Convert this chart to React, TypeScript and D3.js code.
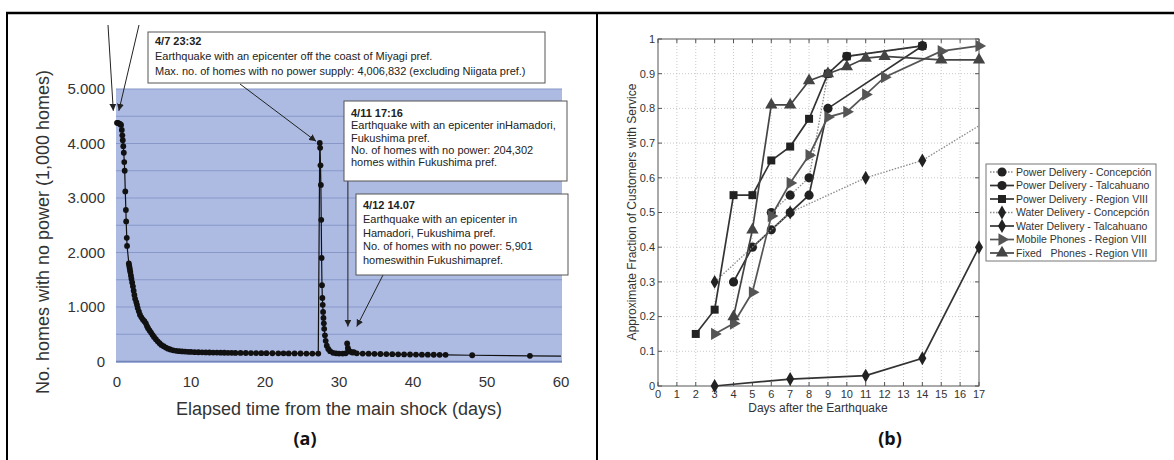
import React from 'react';
import * as d3 from 'd3';

// ---- (a) homes with no power after the main shock, 1,000 homes ----
const outageDays = [
  0, 0.1, 0.25, 0.4, 0.55, 0.65, 0.72, 0.78, 0.85, 0.92, 0.98, 1.04, 1.12, 1.2, 1.24, 1.32, 1.36,
  1.6, 1.65, 1.7, 1.75, 1.8, 1.88, 1.95, 2.05, 2.15, 2.25, 2.35, 2.45, 2.6, 2.7, 2.8, 2.95, 3.1,
  3.3, 3.5, 3.7, 3.9, 4.05, 4.2, 4.4, 4.6, 4.8, 5, 5.25, 5.5, 5.75, 6, 6.3, 6.6, 6.9, 7.2, 7.6, 8,
  8.4, 8.8, 9.2, 9.6, 10, 10.5, 11, 11.5, 12, 12.5, 13, 13.5, 14, 14.5, 15, 15.5, 16, 16.7, 17.4,
  18.1, 18.8, 19.5, 20.2, 21, 21.8, 22.5, 23.2, 24, 24.8, 25.6, 26.4, 27.2,
  27.4, 27.45, 27.5, 27.55, 27.6, 27.65, 27.7, 27.75, 27.8, 27.85, 27.9, 27.95, 28, 28.1, 28.2,
  28.35, 28.55, 28.8, 29.2, 29.6, 30, 30.5, 30.9, 31.1, 31.2, 31.3, 31.5, 31.8, 32, 32.4, 33.2,
  34, 34.8, 35.6, 36.4, 37.2, 38, 38.8, 39.6, 40.4, 41.2, 42, 42.8, 43.6, 44.4, 48, 55.8, 60
];
const outageHomes = [
  4380, 4380, 4370, 4360, 4340, 4250, 4150, 4060, 3950, 3830, 3660, 3500, 3120, 2780, 2570, 2270, 2120,
  1800, 1760, 1720, 1680, 1640, 1580, 1520, 1450, 1380, 1300, 1220, 1150, 1090, 1040, 980, 920, 860,
  810, 770, 740, 700, 650, 610, 570, 530, 490, 450, 410, 370, 335, 305, 280, 255, 235, 220, 205, 195,
  190, 185, 182, 178, 175, 172, 170, 168, 166, 165, 164, 163, 162, 161, 160, 159, 158, 157, 156,
  155, 154, 153, 152, 151, 150, 150, 149, 148, 147, 146, 145, 145,
  4010, 3920, 3600, 3240, 2600, 1900, 1400, 1165, 1040, 910, 800, 700, 600, 480, 380,
  290, 230, 190, 160, 150, 145, 145, 150, 330, 250, 210, 180, 165, 170, 150, 145,
  143, 140, 138, 136, 134, 132, 130, 128, 127, 126, 125, 124, 123, 122, 115, 105, 100
];
const yTicksA = [0, 1000, 2000, 3000, 4000, 5000];
const yTickLabelsA = ['0', '1.000', '2.000', '3.000', '4.000', '5.000'];
const xTicksA = [0, 10, 20, 30, 40, 50, 60];

const note47 = [
  '4/7 23:32',
  'Earthquake with an epicenter off the coast of Miyagi pref.',
  'Max. no. of homes with no power supply: 4,006,832 (excluding Niigata pref.)'
];
const note411 = [
  '4/11 17:16',
  'Earthquake with an epicenter inHamadori,',
  'Fukushima pref.',
  'No. of homes with no power: 204,302',
  'homes within Fukushima pref.'
];
const note412 = [
  '4/12 14.07',
  'Earthquake with an epicenter in',
  'Hamadori, Fukushima pref.',
  'No. of homes with no power: 5,901',
  'homeswithin Fukushimapref.'
];

// ---- (b) fraction of customers with service, by day ----
const seriesNames = [
  'Power Delivery - Concepción',
  'Power Delivery - Talcahuano',
  'Power Delivery - Region VIII',
  'Water Delivery - Concepción',
  'Water Delivery - Talcahuano',
  'Mobile Phones - Region VIII',
  'Fixed   Phones - Region VIII'
];
const powerConcepcion = [[6, 0.5], [7, 0.55], [8, 0.6], [9, 0.9], [10, 0.95], [14, 0.98]];
const powerTalcahuano = [[4, 0.3], [5, 0.4], [6, 0.45], [7, 0.5], [8, 0.55], [9, 0.8], [14, 0.98]];
const powerRegion = [[2, 0.15], [3, 0.22], [4, 0.55], [5, 0.55], [6, 0.65], [7, 0.69], [8, 0.77], [9, 0.9], [10, 0.95], [14, 0.98]];
const waterConcepcion = [[3, 0.3], [7, 0.5], [11, 0.6], [14, 0.65], [17, 0.75]];
const waterTalcahuano = [[3, 0], [7, 0.02], [11, 0.03], [14, 0.08], [17, 0.4]];
const mobileRegion = [[3, 0.15], [4, 0.18], [5, 0.27], [6, 0.49], [7, 0.585], [8, 0.665], [9, 0.775], [10, 0.79], [11, 0.84], [12, 0.89], [15, 0.965], [17, 0.98]];
const fixedRegion = [[4, 0.2], [5, 0.45], [6, 0.81], [7, 0.81], [8, 0.88], [9, 0.9], [10, 0.92], [11, 0.945], [12, 0.95], [15, 0.94], [17, 0.94]];
const xTicksB = [0, 1, 2, 3, 4, 5, 6, 7, 8, 9, 10, 11, 12, 13, 14, 15, 16, 17];
const yTicksB = [0, 0.1, 0.2, 0.3, 0.4, 0.5, 0.6, 0.7, 0.8, 0.9, 1];
const yTickLabelsB = ['0', '0.1', '0.2', '0.3', '0.4', '0.5', '0.6', '0.7', '0.8', '0.9', '1'];

const ARIAL = '"Liberation Sans", Arial, sans-serif';

function NoteBox({ x, y, w, h, lines, lh, first }) {
  return (
    <g>
      <rect x={x} y={y} width={w} height={h} fill="#fff" stroke="#555" strokeWidth={1} />
      {lines.map((t, i) => (
        <text
          key={i}
          x={x + 7}
          y={y + first + i * lh}
          style={{ fontSize: 11, fontFamily: ARIAL, fill: '#222', fontWeight: i === 0 ? 'bold' : 'normal' }}
        >
          {t}
        </text>
      ))}
    </g>
  );
}

function PanelA() {
  const x = d3.scaleLinear().domain([0, 60]).range([117, 561]);
  const y = d3.scaleLinear().domain([0, 5000]).range([361.5, 89]);
  const pts = outageDays.map((d, i) => [d, outageHomes[i]]);
  const line = d3.line().x(d => x(d[0])).y(d => y(d[1]));
  const grid = d3.range(500, 5001, 500);

  return (
    <g className="panelA">
      <rect x={116} y={y(5000)} width={446} height={y(0) - y(5000) + 1.5} fill="#adbbe3" />
      {grid.map(g => (
        <line key={g} x1={116} x2={562} y1={y(g)} y2={y(g)} stroke="#8797c8" strokeWidth={1.2} />
      ))}
      <line x1={116} x2={562} y1={y(0)} y2={y(0)} stroke="#7585b8" strokeWidth={1.5} />
      {yTicksA.map((t, i) => (
        <text key={t} x={105} y={y(t)} dy="0.35em" textAnchor="end"
          style={{ fontSize: 15, fontFamily: ARIAL, fill: '#333' }}>{yTickLabelsA[i]}</text>
      ))}
      {xTicksA.map(t => (
        <text key={t} x={x(t)} y={382} dy="0.35em" textAnchor="middle"
          style={{ fontSize: 15, fontFamily: ARIAL, fill: '#333' }}>{t}</text>
      ))}
      <text x={339} y={409} dy="0.35em" textAnchor="middle"
        style={{ fontSize: 18, fontFamily: ARIAL, fill: '#333' }}>Elapsed time from the main shock (days)</text>
      <text transform="translate(43,232) rotate(-90)" dy="0.35em" textAnchor="middle"
        style={{ fontSize: 18, fontFamily: ARIAL, fill: '#333' }}>No. homes with no power (1,000 homes)</text>

      <path d={line(pts)} fill="none" stroke="#111" strokeWidth={1.2} />
      {pts.slice(0, pts.length - 1).map((p, i) => (
        <circle key={i} cx={x(p[0])} cy={y(p[1])} r={2.9} fill="#111" />
      ))}

      {/* arrows */}
      <line x1={108} y1={25} x2={x(-0.5)} y2={y(4600)} stroke="#222" strokeWidth={1} markerEnd="url(#arrowA)" />
      <line x1={139} y1={25} x2={x(0.25)} y2={y(4600)} stroke="#222" strokeWidth={1} markerEnd="url(#arrowA)" />
      <line x1={240} y1={84} x2={x(26.9)} y2={y(4040)} stroke="#222" strokeWidth={1} markerEnd="url(#arrowA)" />
      <line x1={x(31.2)} y1={181} x2={x(31.2)} y2={y(640)} stroke="#222" strokeWidth={1} markerEnd="url(#arrowA)" />
      <line x1={383} y1={275} x2={x(32.4)} y2={y(640)} stroke="#222" strokeWidth={1} markerEnd="url(#arrowA)" />

      <NoteBox x={148} y={32} w={397} h={51} lines={note47} lh={15} first={13} />
      <NoteBox x={344} y={101} w={223} h={80} lines={note411} lh={12.3} first={16} />
      <NoteBox x={356} y={194} w={212} h={81} lines={note412} lh={13.8} first={15} />

      <text x={305} y={445} textAnchor="middle"
        style={{ fontSize: 18, fontFamily: '"Open Sans", sans-serif', fontWeight: 'bold', fill: '#111' }}>(a)</text>
    </g>
  );
}

function Marker({ kind, cx, cy, fill }) {
  let p;
  let rot = 0;
  if (kind === 'circle') p = d3.symbol(d3.symbolCircle, 66)();
  else if (kind === 'square') p = d3.symbol(d3.symbolSquare, 64)();
  else if (kind === 'diamond') p = d3.symbol(d3.symbolDiamond, 56)();
  else {
    p = d3.symbol(d3.symbolTriangle, 66)();
    if (kind === 'tri-right') rot = 90;
  }
  return <path d={p} transform={`translate(${cx},${cy}) rotate(${rot})`} fill={fill} />;
}

function PanelB() {
  const x = d3.scaleLinear().domain([0, 17]).range([658, 979]);
  const y = d3.scaleLinear().domain([0, 1]).range([386, 39]);
  const line = d3.line().x(d => x(d[0])).y(d => y(d[1]));

  const series = [
    { pts: powerConcepcion, kind: 'circle', dash: true },
    { pts: powerTalcahuano, kind: 'circle', dash: false },
    { pts: powerRegion, kind: 'square', dash: false },
    { pts: waterConcepcion, kind: 'diamond', dash: true },
    { pts: waterTalcahuano, kind: 'diamond', dash: false },
    { pts: mobileRegion, kind: 'tri-right', dash: false, color: '#555' },
    { pts: fixedRegion, kind: 'triangle', dash: false, color: '#444' }
  ];

  return (
    <g className="panelB">
      <rect x={x(0)} y={y(1)} width={x(17) - x(0)} height={y(0) - y(1)} fill="#fff" />
      {xTicksB.slice(1, -1).map(t => (
        <line key={t} x1={x(t)} x2={x(t)} y1={y(0)} y2={y(1)} stroke="#bbb" strokeWidth={0.8} strokeDasharray="1 2" />
      ))}
      {yTicksB.slice(1, -1).map(t => (
        <line key={t} x1={x(0)} x2={x(17)} y1={y(t)} y2={y(t)} stroke="#bbb" strokeWidth={0.8} strokeDasharray="1 2" />
      ))}
      {xTicksB.map(t => (
        <g key={t}>
          <line x1={x(t)} x2={x(t)} y1={y(0)} y2={y(0) - 4} stroke="#555" />
          <line x1={x(t)} x2={x(t)} y1={y(1)} y2={y(1) + 4} stroke="#555" />
          <text x={x(t)} y={394} dy="0.35em" textAnchor="middle"
            style={{ fontSize: 11, fontFamily: ARIAL, fill: '#333' }}>{t}</text>
        </g>
      ))}
      {yTicksB.map((t, i) => (
        <g key={t}>
          <line x1={x(0)} x2={x(0) + 4} y1={y(t)} y2={y(t)} stroke="#555" />
          <line x1={x(17)} x2={x(17) - 4} y1={y(t)} y2={y(t)} stroke="#555" />
          <text x={655} y={y(t)} dy="0.35em" textAnchor="end"
            style={{ fontSize: 11, fontFamily: ARIAL, fill: '#333' }}>{yTickLabelsB[i]}</text>
        </g>
      ))}
      <rect x={x(0)} y={y(1)} width={x(17) - x(0)} height={y(0) - y(1)} fill="none" stroke="#555" strokeWidth={1} />

      {series.map((s, i) => (
        <g key={i}>
          <path d={line(s.pts)} fill="none"
            stroke={s.dash ? '#8a8a8a' : (s.color || '#333')}
            strokeWidth={s.dash ? 1.3 : 1.7}
            strokeDasharray={s.dash ? '1.5 1.5' : null} />
          {s.pts.filter(p => !(s.pts === waterConcepcion && p[0] === 17)).map((p, j) => (
            <Marker key={j} kind={s.kind} cx={x(p[0])} cy={y(p[1])} fill={s.color || '#222'} />
          ))}
        </g>
      ))}

      <text x={818} y={408} dy="0.35em" textAnchor="middle"
        style={{ fontSize: 12, fontFamily: ARIAL, fill: '#333' }}>Days after the Earthquake</text>
      <text transform="translate(632,212) rotate(-90)" dy="0.35em" textAnchor="middle"
        style={{ fontSize: 12, fontFamily: ARIAL, fill: '#333' }}>Approximate Fraction of Customers with Service</text>

      <g className="legend">
        <rect x={986} y={164} width={170} height={97} fill="#fff" stroke="#777" strokeWidth={1} />
        {series.map((s, i) => {
          const ly = 172 + i * 13.5;
          return (
            <g key={i}>
              <line x1={990} x2={1014} y1={ly} y2={ly}
                stroke={s.dash ? '#8a8a8a' : (s.color || '#333')}
                strokeWidth={s.dash ? 1.3 : 1.7}
                strokeDasharray={s.dash ? '1.5 1.5' : null} />
              <Marker kind={s.kind} cx={1002} cy={ly} fill={s.color || '#222'} />
              <text x={1016} y={ly} dy="0.35em" xmlSpace="preserve"
                style={{ fontSize: 10.5, fontFamily: ARIAL, fill: '#333', whiteSpace: 'pre' }}>{seriesNames[i]}</text>
            </g>
          );
        })}
      </g>

      <text x={890} y={445} textAnchor="middle"
        style={{ fontSize: 18, fontFamily: '"Open Sans", sans-serif', fontWeight: 'bold', fill: '#111' }}>(b)</text>
    </g>
  );
}

export default function App() {
  return (
    <svg width={1174} height={460} style={{ position: 'absolute', left: 0, top: 0, background: '#fff' }}>
      <defs>
        <marker id="arrowA" viewBox="0 0 10 10" refX="10" refY="5" markerWidth="7" markerHeight="7"
          markerUnits="userSpaceOnUse" orient="auto">
          <path d="M0,0 L10,5 L0,10 z" fill="#222" />
        </marker>
      </defs>
      <rect x={0} y={0} width={1174} height={460} fill="#fff" />
      <line x1={6} x2={1174} y1={13} y2={13} stroke="#000" strokeWidth={2.5} />
      <line x1={7} x2={7} y1={12} y2={460} stroke="#000" strokeWidth={2} />
      <line x1={597} x2={597} y1={12} y2={460} stroke="#000" strokeWidth={2} />
      <PanelA />
      <PanelB />
    </svg>
  );
}
